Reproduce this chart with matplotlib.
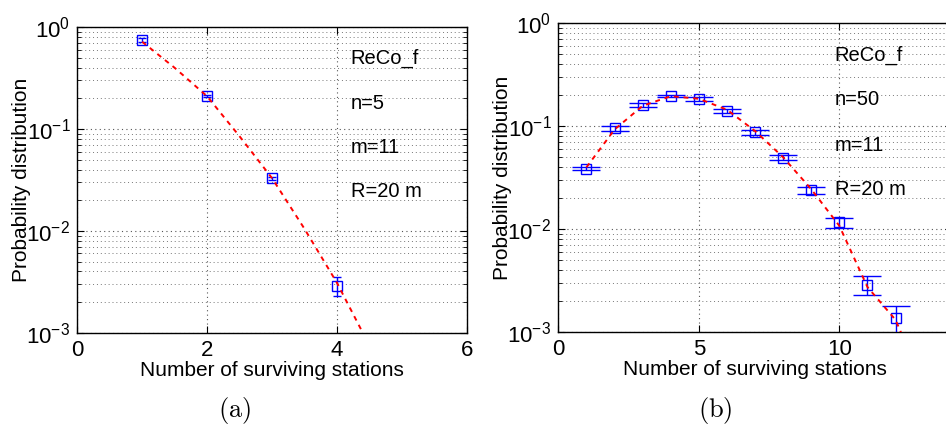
import matplotlib
matplotlib.use("Agg")
import matplotlib.pyplot as plt
from matplotlib.ticker import LogLocator, NullFormatter

plt.rcParams["font.family"] = ["Liberation Sans", "DejaVu Sans"]
plt.rcParams["mathtext.fontset"] = "custom"
plt.rcParams["mathtext.rm"] = "Liberation Sans"
plt.rcParams["mathtext.it"] = "Liberation Sans:italic"
plt.rcParams["mathtext.bf"] = "Liberation Sans:bold"

# panel (a): n=5
a_x = [1, 2, 3, 4]
a_y = [0.75, 0.21, 0.0329, 0.0029]
a_hi = [0.79, 0.215, 0.034, 0.0035]
a_lo = [0.71, 0.205, 0.0318, 0.0023]
a_fit_x = [1, 1.5, 2, 2.5, 3, 3.5, 4, 4.5]
a_fit_y = [0.72, 0.40, 0.21, 0.085, 0.033, 0.0105, 0.0031, 0.00075]

# panel (b): n=50
b_x = [1, 2, 3, 4, 5, 6, 7, 8, 9, 10, 11, 12]
b_y = [0.0385, 0.0957, 0.161, 0.199, 0.184, 0.141, 0.0875, 0.0497, 0.0243, 0.0117, 0.00288, 0.00137]
b_hi = [0.040, 0.100, 0.167, 0.203, 0.191, 0.147, 0.0916, 0.0524, 0.0258, 0.0129, 0.0035, 0.0018]
b_lo = [0.0375, 0.0906, 0.155, 0.191, 0.176, 0.135, 0.0831, 0.0469, 0.022, 0.0104, 0.00229, 0.0009]
b_fit_x = [1, 2, 3, 4, 5, 6, 7, 8, 9, 10, 11, 12, 12.3]
b_fit_y = [0.040, 0.093, 0.158, 0.196, 0.185, 0.145, 0.090, 0.050, 0.0245, 0.0108, 0.00275, 0.00132, 0.00085]

labels = ["ReCo_f", "n=5", "m=11", "R=20 m"]
labels_b = ["ReCo_f", "n=50", "m=11", "R=20 m"]

fig = plt.figure(figsize=(9.46, 4.28), dpi=100)
ax_a = fig.add_axes([0.0817, 0.2227, 0.4116, 0.7136])
ax_b = fig.add_axes([0.5902, 0.2236, 0.4159, 0.722])


def draw(ax, x, y, lo, hi, fx, fy, xlim, xticks, txt, capsize):
    yerr = [[v - l for v, l in zip(y, lo)], [h - v for v, h in zip(y, hi)]]
    ax.errorbar(x, y, yerr=yerr, fmt="s", color="#0000ff", mfc="none", ms=6.5,
                mew=1.0, elinewidth=1.0, capsize=capsize, capthick=1.0, zorder=3)
    ax.plot(fx, fy, color="#ff0000", ls=(0, (2.5, 2.5)), lw=1.4, zorder=4)
    ax.set_yscale("log")
    ax.set_ylim(1e-3, 1)
    ax.set_xlim(*xlim)
    ax.set_xticks(xticks)
    ax.yaxis.set_major_locator(LogLocator(base=10, numticks=10))
    ax.yaxis.set_minor_locator(LogLocator(base=10, subs=range(2, 10), numticks=10))
    ax.yaxis.set_minor_formatter(NullFormatter())
    ax.grid(True, which="major", axis="both", ls=(0, (1, 3)), color="#555555", lw=0.8)
    ax.grid(True, which="minor", axis="y", ls=(0, (1, 3)), color="#777777", lw=0.7)
    ax.tick_params(which="both", direction="in", top=True, right=True, labelsize=16, pad=5)
    ax.tick_params(which="major", length=5)
    ax.tick_params(which="minor", length=3)
    ax.set_xlabel("Number of surviving stations", fontsize=15, labelpad=0)
    ax.set_ylabel("Probability distribution", fontsize=15, labelpad=-3)
    for s in ax.spines.values():
        s.set_linewidth(1.0)
    for t, yy in zip(txt, [0.897, 0.752, 0.605, 0.463]):
        ax.text(0.702, yy, t, transform=ax.transAxes, fontsize=14.5, va="center", ha="left")


draw(ax_a, a_x, a_y, a_lo, a_hi, a_fit_x, a_fit_y, (0, 6), [0, 2, 4, 6], labels, 3)
draw(ax_b, b_x, b_y, b_lo, b_hi, b_fit_x, b_fit_y, (0, 14), [0, 5, 10], labels_b, 10)

fig.text(235 / 946, 1 - 410 / 428, r"$\mathrm{(a)}$", math_fontfamily="cm", fontsize=19, ha="center", va="center")
fig.text(715 / 946, 1 - 410 / 428, r"$\mathrm{(b)}$", math_fontfamily="cm", fontsize=19, ha="center", va="center")

fig.savefig("out.png", dpi=100)
